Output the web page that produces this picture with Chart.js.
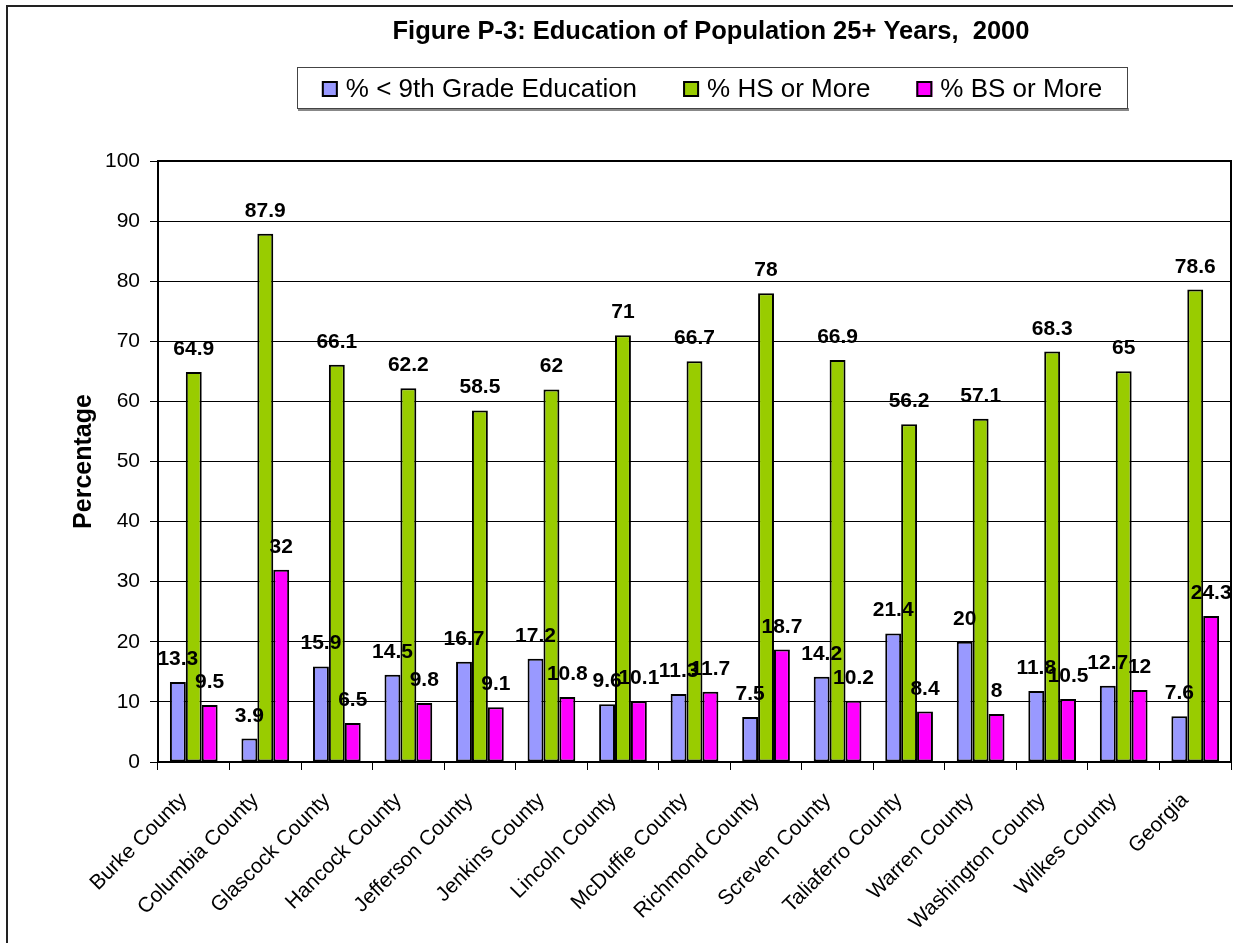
<!DOCTYPE html>
<html>
<head>
<meta charset="utf-8">
<title>Figure P-3</title>
<script src="https://cdn.jsdelivr.net/npm/chart.js@4/dist/chart.umd.min.js"></script>
<style>
  html, body { margin: 0; padding: 0; background: #fff; }
  #wrap { width: 1233px; height: 943px; position: relative; }
</style>
</head>
<body>
<div id="wrap"><canvas id="eduChart" width="1233" height="943"></canvas></div>
<script>
'use strict';

// Data

const counties = ['Burke County', 'Columbia County', 'Glascock County', 'Hancock County',
  'Jefferson County', 'Jenkins County', 'Lincoln County', 'McDuffie County', 'Richmond County',
  'Screven County', 'Taliaferro County', 'Warren County', 'Washington County', 'Wilkes County', 'Georgia'];
const below9th = [13.3, 3.9, 15.9, 14.5, 16.7, 17.2, 9.6, 11.3, 7.5, 14.2, 21.4, 20, 11.8, 12.7, 7.6];
const hsOrMore = [64.9, 87.9, 66.1, 62.2, 58.5, 62, 71, 66.7, 78, 66.9, 56.2, 57.1, 68.3, 65, 78.6];
const bsOrMore = [9.5, 32, 6.5, 9.8, 9.1, 10.8, 10.1, 11.7, 18.7, 10.2, 8.4, 8, 10.5, 12, 24.3];
const yTicks = [0, 10, 20, 30, 40, 50, 60, 70, 80, 90, 100];

const FONT = '"Liberation Sans", Arial, Helvetica, sans-serif';

// Frame, title and legend (drawn by hand to match the Excel look)

const decorPlugin = {
  id: 'decor',
  beforeDraw(chart) {
    let ctx = chart.ctx;
    ctx.save();
    ctx.fillStyle = '#fff';
    ctx.fillRect(0, 0, chart.width, chart.height);
    ctx.strokeStyle = '#222';
    ctx.lineWidth = 2;
    ctx.strokeRect(7, 6, chart.width + 10, chart.height + 10);
    ctx.restore();
  },
  afterDraw(chart) {
    let ctx = chart.ctx;
    ctx.save();

    // title
    ctx.fillStyle = '#000';
    ctx.font = 'bold 25.5px ' + FONT;
    ctx.textAlign = 'center';
    ctx.textBaseline = 'alphabetic';
    ctx.fillText('Figure P-3: Education of Population 25+ Years,  2000', 711, 39);

    // legend box
    ctx.fillStyle = '#888';
    ctx.fillRect(298, 108, 831, 3);
    ctx.fillStyle = '#fff';
    ctx.fillRect(297.5, 67.5, 830, 41);
    ctx.strokeStyle = '#444';
    ctx.lineWidth = 1;
    ctx.strokeRect(297.5, 67.5, 830, 41);

    // legend items
    ctx.font = '26px ' + FONT;
    ctx.textAlign = 'left';
    ctx.textBaseline = 'middle';
    let items = chart.data.datasets;
    let total = 0;
    items.forEach(function (ds, i) {
      total += 16 + 8 + ctx.measureText(ds.label).width;
      if (i > 0) total += 46;
    });
    let x = 712 - total / 2;
    items.forEach(function (ds) {
      ctx.fillStyle = ds.backgroundColor;
      ctx.fillRect(x, 81, 16, 16);
      ctx.strokeStyle = '#000';
      ctx.lineWidth = 2;
      ctx.strokeRect(x + 1, 82, 14, 14);
      ctx.fillStyle = '#000';
      ctx.fillText(ds.label, x + 24, 90);
      x += 16 + 8 + ctx.measureText(ds.label).width + 46;
    });

    // plot border (top and right)
    let a = chart.chartArea;
    ctx.strokeStyle = '#000';
    ctx.lineWidth = 2;
    ctx.beginPath();
    ctx.moveTo(a.left, a.top);
    ctx.lineTo(a.right, a.top);
    ctx.lineTo(a.right, a.bottom);
    ctx.stroke();
    ctx.restore();
  },
  afterDatasetsDraw(chart) {
    // value labels above each bar
    let ctx = chart.ctx;
    ctx.save();
    ctx.fillStyle = '#000';
    ctx.font = 'bold 21px ' + FONT;
    ctx.textAlign = 'center';
    ctx.textBaseline = 'alphabetic';
    chart.data.datasets.forEach(function (ds, i) {
      let meta = chart.getDatasetMeta(i);
      meta.data.forEach(function (bar, j) {
        ctx.fillText(String(ds.data[j]), bar.x, bar.y - 17);
      });
    });
    ctx.restore();
  }
};

// Build the chart

function barSet(label, data, color) {
  return {
    label: label,
    data: data,
    backgroundColor: color,
    borderColor: '#000',
    borderWidth: 2,
    borderSkipped: false,
    barPercentage: 1,
    categoryPercentage: 0.667
  };
}

let eduChart = new Chart(document.getElementById('eduChart').getContext('2d'), {
  type: 'bar',
  data: {
    labels: counties,
    datasets: [
      barSet('% < 9th Grade Education', below9th, '#9999FF'),
      barSet('% HS or More', hsOrMore, '#99CC00'),
      barSet('% BS or More', bsOrMore, '#FF00FF')
    ]
  },
  options: {
    responsive: false,
    animation: false,
    events: [],
    layout: { padding: { top: 161, left: 0, right: 2, bottom: 0 } },
    plugins: {
      legend: { display: false },
      title: { display: false },
      tooltip: { enabled: false }
    },
    scales: {
      x: {
        afterFit: function (scale) { scale.height = 181; },
        grid: {
          display: true,
          offset: true,
          drawOnChartArea: false,
          drawTicks: true,
          tickLength: 8,
          color: '#000',
          lineWidth: 1
        },
        border: { color: '#000', width: 2 },
        ticks: {
          minRotation: 45,
          maxRotation: 45,
          autoSkip: false,
          padding: 18,
          labelOffset: -10,
          color: '#000',
          font: { family: FONT, size: 21 }
        }
      },
      y: {
        min: 0,
        max: 100,
        afterFit: function (scale) { scale.width = 158; },
        afterBuildTicks: function (scale) {
          scale.ticks = yTicks.map(function (v) { return { value: v }; });
        },
        grid: {
          color: '#000',
          lineWidth: 1,
          drawTicks: true,
          tickLength: 8
        },
        border: { color: '#000', width: 2 },
        ticks: {
          padding: 10,
          color: '#000',
          font: { family: FONT, size: 21 }
        },
        title: {
          display: true,
          text: 'Percentage',
          color: '#000',
          padding: { top: 69, bottom: 0 },
          font: { family: FONT, size: 25, weight: 'bold' }
        }
      }
    }
  },
  plugins: [decorPlugin]
});
</script>
</body>
</html>
